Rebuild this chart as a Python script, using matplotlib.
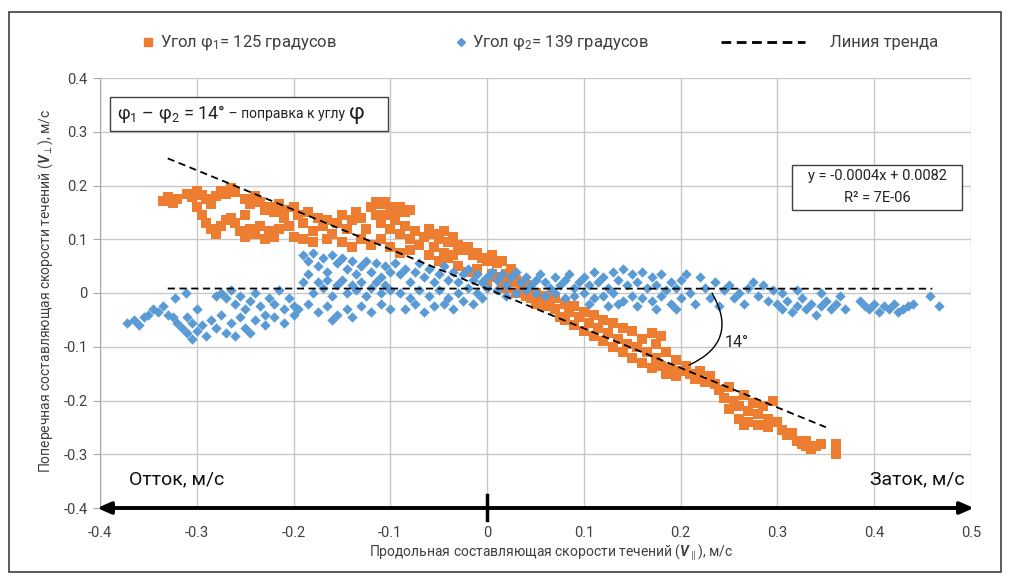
import matplotlib
matplotlib.use("Agg")
import matplotlib.pyplot as plt
from matplotlib.lines import Line2D
from matplotlib.patches import Rectangle

plt.rcParams['font.family'] = ['Roboto', 'DejaVu Sans']
plt.rcParams['mathtext.fontset'] = 'custom'
plt.rcParams['mathtext.rm'] = 'Roboto'
plt.rcParams['mathtext.it'] = 'Roboto:italic'
plt.rcParams['mathtext.bf'] = 'Roboto:bold'
plt.rcParams['mathtext.bfit'] = 'Roboto:bold:italic'

ORANGE = "#ED7D31"
BLUE = "#5B9BD5"

# angle phi1 = 125 deg (orange squares)
phi1_pts = [
    (-0.335, 0.172), (-0.33, 0.178), (-0.325, 0.168), (-0.32, 0.175), (-0.31, 0.185),
    (-0.305, 0.178), (-0.30, 0.19), (-0.295, 0.182), (-0.29, 0.175), (-0.285, 0.165),
    (-0.28, 0.18), (-0.275, 0.19), (-0.27, 0.185), (-0.265, 0.195), (-0.26, 0.188),
    (-0.30, 0.16), (-0.295, 0.145), (-0.29, 0.13), (-0.285, 0.12), (-0.28, 0.11),
    (-0.275, 0.125), (-0.27, 0.135), (-0.265, 0.14), (-0.26, 0.13), (-0.255, 0.115),
    (-0.25, 0.105), (-0.245, 0.12), (-0.24, 0.11), (-0.235, 0.125), (-0.23, 0.10),
    (-0.225, 0.115), (-0.22, 0.105), (-0.215, 0.12), (-0.25, 0.175), (-0.245, 0.165),
    (-0.24, 0.18), (-0.235, 0.17), (-0.23, 0.155), (-0.225, 0.16), (-0.22, 0.15),
    (-0.215, 0.165), (-0.21, 0.155), (-0.25, 0.145),
    (-0.21, 0.14), (-0.205, 0.125), (-0.20, 0.16), (-0.195, 0.145), (-0.19, 0.13),
    (-0.185, 0.15), (-0.18, 0.115), (-0.175, 0.14), (-0.17, 0.125), (-0.165, 0.135),
    (-0.16, 0.11), (-0.155, 0.13), (-0.15, 0.145), (-0.145, 0.12), (-0.14, 0.135),
    (-0.135, 0.15), (-0.13, 0.14), (-0.125, 0.12), (-0.20, 0.105), (-0.19, 0.10),
    (-0.18, 0.095), (-0.165, 0.10), (-0.15, 0.095), (-0.14, 0.085), (-0.13, 0.10),
    (-0.12, 0.09),
    (-0.12, 0.16), (-0.115, 0.17), (-0.11, 0.165), (-0.105, 0.17), (-0.10, 0.16),
    (-0.095, 0.155), (-0.09, 0.16), (-0.085, 0.15), (-0.08, 0.155), (-0.115, 0.145),
    (-0.11, 0.13), (-0.105, 0.145), (-0.10, 0.12), (-0.095, 0.135), (-0.09, 0.11),
    (-0.085, 0.125), (-0.08, 0.10), (-0.075, 0.115), (-0.11, 0.10), (-0.10, 0.085),
    (-0.09, 0.075), (-0.08, 0.08), (-0.07, 0.09), (-0.065, 0.105),
    (-0.06, 0.12), (-0.055, 0.11), (-0.05, 0.10), (-0.045, 0.115), (-0.04, 0.095),
    (-0.035, 0.105), (-0.03, 0.09), (-0.025, 0.08), (-0.02, 0.085), (-0.015, 0.07),
    (-0.01, 0.075), (-0.005, 0.065), (0.0, 0.06), (-0.06, 0.07), (-0.05, 0.06),
    (-0.04, 0.065), (-0.03, 0.05), (-0.02, 0.04), (-0.01, 0.045), (0.005, 0.07),
    (0.01, 0.055), (0.015, 0.06), (-0.055, 0.085), (-0.045, 0.075), (-0.035, 0.07),
    (0.01, 0.03), (0.015, 0.02), (0.02, 0.035), (0.02, 0.01), (0.025, 0.02),
    (0.03, 0.0), (0.03, 0.025), (0.035, 0.01), (0.04, -0.005), (0.04, 0.015),
    (0.045, -0.01), (0.05, 0.0), (0.05, -0.02), (0.055, -0.01), (0.06, -0.025),
    (0.06, -0.005), (0.065, -0.015), (0.0, 0.02), (0.005, 0.035), (0.025, 0.045),
    (0.07, -0.03), (0.07, -0.01), (0.075, -0.045), (0.08, -0.02), (0.08, -0.05),
    (0.085, -0.035), (0.09, -0.06), (0.09, -0.025), (0.095, -0.045), (0.10, -0.07),
    (0.10, -0.035), (0.105, -0.055), (0.11, -0.08), (0.11, -0.04), (0.115, -0.065),
    (0.12, -0.09), (0.12, -0.05), (0.125, -0.075), (0.13, -0.10), (0.13, -0.055),
    (0.135, -0.085), (0.14, -0.11), (0.14, -0.065), (0.145, -0.095), (0.15, -0.12),
    (0.15, -0.07), (0.155, -0.10), (0.16, -0.085), (0.165, -0.11), (0.17, -0.075),
    (0.175, -0.095), (0.18, -0.08), (0.16, -0.13), (0.17, -0.14), (0.175, -0.12),
    (0.18, -0.135), (0.185, -0.15), (0.19, -0.14), (0.195, -0.155), (0.20, -0.145),
    (0.185, -0.11), (0.195, -0.125), (0.205, -0.135), (0.21, -0.15), (0.215, -0.16),
    (0.22, -0.145), (0.225, -0.165), (0.23, -0.155),
    (0.235, -0.17), (0.24, -0.18), (0.245, -0.195), (0.25, -0.175), (0.255, -0.2),
    (0.26, -0.21), (0.265, -0.19), (0.27, -0.22), (0.275, -0.205), (0.28, -0.225),
    (0.285, -0.21), (0.29, -0.235), (0.295, -0.2), (0.25, -0.215), (0.26, -0.235),
    (0.265, -0.245), (0.27, -0.24), (0.28, -0.245), (0.29, -0.25),
    (0.30, -0.24), (0.305, -0.255), (0.31, -0.265), (0.315, -0.26), (0.32, -0.275),
    (0.325, -0.28), (0.33, -0.285), (0.335, -0.29), (0.34, -0.285), (0.345, -0.28),
    (0.33, -0.275), (0.36, -0.28), (0.36, -0.30),
]

# angle phi2 = 139 deg (blue diamonds)
phi2_pts = [
    (-0.372, -0.055), (-0.365, -0.05), (-0.36, -0.06), (-0.355, -0.045), (-0.35, -0.04),
    (-0.345, -0.03), (-0.34, -0.035), (-0.335, -0.025), (-0.33, -0.04), (-0.325, -0.045),
    (-0.32, -0.055), (-0.315, -0.065), (-0.31, -0.075), (-0.305, -0.085), (-0.30, -0.07),
    (-0.31, -0.045), (-0.305, -0.055), (-0.322, -0.01), (-0.311, 0.0),
    (-0.30, -0.03), (-0.295, -0.06), (-0.29, -0.08), (-0.285, -0.05), (-0.28, -0.065),
    (-0.275, -0.04), (-0.27, -0.075), (-0.265, -0.055), (-0.26, -0.08), (-0.255, -0.045),
    (-0.25, -0.065), (-0.245, -0.075), (-0.28, -0.005), (-0.275, 0.0), (-0.27, -0.01),
    (-0.265, 0.005), (-0.26, -0.02), (-0.255, -0.005), (-0.25, -0.03), (-0.245, -0.015),
    (-0.24, 0.0), (-0.235, -0.025), (-0.23, -0.04), (-0.225, -0.01), (-0.22, -0.02),
    (-0.215, 0.005), (-0.21, -0.03), (-0.205, -0.01), (-0.20, -0.025), (-0.24, -0.05),
    (-0.23, -0.06), (-0.22, -0.045), (-0.21, -0.055), (-0.20, -0.04),
    (-0.19, 0.07), (-0.185, 0.06), (-0.18, 0.075), (-0.175, 0.05), (-0.17, 0.065),
    (-0.165, 0.04), (-0.16, 0.07), (-0.155, 0.055), (-0.15, 0.065), (-0.145, 0.045),
    (-0.14, 0.06), (-0.135, 0.035), (-0.13, 0.05), (-0.125, 0.06), (-0.12, 0.04),
    (-0.115, 0.055), (-0.11, 0.03), (-0.105, 0.05), (-0.10, 0.04), (-0.19, 0.02),
    (-0.185, 0.035), (-0.18, 0.0), (-0.175, 0.02), (-0.17, 0.01), (-0.165, 0.025),
    (-0.16, -0.005), (-0.155, 0.015), (-0.15, 0.025), (-0.145, 0.0), (-0.14, 0.015),
    (-0.135, 0.005), (-0.13, 0.02), (-0.125, -0.005), (-0.12, 0.01), (-0.115, 0.02),
    (-0.11, 0.0), (-0.105, 0.015), (-0.10, 0.005), (-0.195, -0.03), (-0.185, -0.02),
    (-0.175, -0.035), (-0.165, -0.025), (-0.16, -0.05), (-0.155, -0.04), (-0.145, -0.03),
    (-0.14, -0.045), (-0.13, -0.025), (-0.12, -0.035), (-0.11, -0.02), (-0.10, -0.03),
    (-0.095, 0.055), (-0.09, 0.035), (-0.085, 0.045), (-0.08, 0.02), (-0.075, 0.04),
    (-0.07, 0.055), (-0.065, 0.03), (-0.06, 0.045), (-0.055, 0.02), (-0.05, 0.035),
    (-0.045, 0.05), (-0.04, 0.025), (-0.035, 0.04), (-0.03, 0.02), (-0.025, 0.035),
    (-0.02, 0.045), (-0.015, 0.025), (-0.01, 0.035), (-0.005, 0.02), (0.0, 0.03),
    (-0.09, 0.0), (-0.08, -0.01), (-0.07, 0.005), (-0.06, -0.005), (-0.05, 0.005),
    (-0.04, -0.01), (-0.03, 0.0), (-0.02, 0.01), (-0.01, 0.0), (0.0, 0.01),
    (-0.085, -0.03), (-0.075, -0.02), (-0.065, -0.035), (-0.055, -0.025), (-0.045, -0.02),
    (-0.035, -0.03), (-0.025, -0.015), (-0.015, -0.02), (-0.005, -0.01),
    (0.005, 0.04), (0.01, 0.025), (0.015, 0.035), (0.02, 0.015), (0.025, 0.03),
    (0.03, 0.04), (0.035, 0.02), (0.04, 0.03), (0.045, 0.015), (0.05, 0.025),
    (0.055, 0.035), (0.06, 0.02), (0.065, 0.01), (0.07, 0.03), (0.075, 0.015),
    (0.08, 0.025), (0.085, 0.035), (0.09, 0.01), (0.095, 0.02), (0.10, 0.03),
    (0.105, 0.015), (0.11, 0.04), (0.115, 0.02), (0.12, 0.03), (0.125, 0.01),
    (0.13, 0.04), (0.135, 0.025), (0.14, 0.045), (0.145, 0.015), (0.15, 0.035),
    (0.155, 0.02), (0.16, 0.04), (0.165, 0.01), (0.17, 0.03), (0.175, 0.015),
    (0.18, 0.035), (0.185, 0.005), (0.19, 0.02), (0.195, 0.01), (0.20, 0.025),
    (0.01, 0.005), (0.02, -0.005), (0.03, 0.0), (0.04, 0.005), (0.05, 0.0),
    (0.06, -0.005), (0.07, 0.0), (0.08, -0.01), (0.09, -0.005), (0.10, 0.0),
    (0.11, -0.01), (0.12, -0.005), (0.13, 0.0), (0.14, -0.015), (0.15, -0.005),
    (0.16, -0.01), (0.17, -0.015), (0.18, -0.005), (0.19, -0.02), (0.20, -0.01),
    (0.105, -0.02), (0.125, -0.025), (0.155, -0.025), (0.175, -0.03), (0.195, -0.03),
    (0.135, -0.02),
    (0.205, 0.035), (0.21, 0.0), (0.215, -0.02), (0.22, 0.03), (0.225, 0.01),
    (0.23, -0.01), (0.235, 0.02), (0.24, -0.025), (0.245, 0.005), (0.25, 0.015),
    (0.255, -0.01), (0.26, 0.0), (0.265, -0.02), (0.27, 0.01), (0.275, 0.02),
    (0.28, -0.005), (0.285, 0.015), (0.29, -0.015), (0.295, 0.005), (0.30, -0.02),
    (0.305, -0.03), (0.31, -0.015), (0.315, -0.035), (0.32, -0.025), (0.325, -0.01),
    (0.33, -0.03), (0.335, -0.02), (0.34, -0.04), (0.345, -0.025), (0.35, -0.015),
    (0.355, -0.03), (0.36, -0.02), (0.365, -0.005), (0.37, -0.03), (0.385, -0.015),
    (0.39, -0.025), (0.395, -0.03), (0.40, -0.02), (0.405, -0.035), (0.41, -0.025),
    (0.415, -0.03), (0.42, -0.02), (0.425, -0.035), (0.43, -0.03), (0.435, -0.025),
    (0.44, -0.02), (0.458, -0.005), (0.467, -0.025), (0.305, 0.0), (0.32, 0.005),
    (0.345, 0.0),
]

# trend lines: (x_start, x_end, slope, intercept)
trend_phi1 = (-0.33, 0.35, -0.7356, 0.0077)
trend_phi2 = (-0.33, 0.46, -0.0004, 0.0082)

x_ticks = [-0.4, -0.3, -0.2, -0.1, 0, 0.1, 0.2, 0.3, 0.4, 0.5]
y_ticks = [-0.4, -0.3, -0.2, -0.1, 0, 0.1, 0.2, 0.3, 0.4]


def fmt(v):
    return "0" if v == 0 else f"{v:g}"


def px(x, y):
    # figure pixel -> figure fraction
    return x / 1010, 1 - y / 576


fig = plt.figure(figsize=(10.1, 5.76), dpi=100)
ax = fig.add_axes([100 / 1010, 1 - 508 / 576, 871 / 1010, 430 / 576])

ax.set_xlim(-0.4, 0.5)
ax.set_ylim(-0.4, 0.4)
ax.set_xticks(x_ticks)
ax.set_yticks(y_ticks)
ax.set_xticklabels([fmt(v) for v in x_ticks])
ax.set_yticklabels([fmt(v) for v in y_ticks])
ax.grid(True, color="#c8c8c8", lw=1)
ax.set_axisbelow(True)
for s in ["top", "right", "bottom"]:
    ax.spines[s].set_visible(False)
ax.spines["left"].set_color("#a6a6a6")
ax.tick_params(axis="y", colors="#a6a6a6", labelcolor="#404040", labelsize=10.5,
               length=5, pad=4)
ax.tick_params(axis="x", length=0, labelcolor="#404040", labelsize=10.5, pad=13)

ax.scatter([p[0] for p in phi1_pts], [p[1] for p in phi1_pts], marker="s",
           s=52, color=ORANGE, linewidths=0, zorder=3)
ax.scatter([p[0] for p in phi2_pts], [p[1] for p in phi2_pts], marker="D",
           s=28, color=BLUE, linewidths=0, zorder=4)

for x0, x1, k, b in (trend_phi1, trend_phi2):
    ax.plot([x0, x1], [k * x0 + b, k * x1 + b], color="black", lw=1.3,
            ls=(0, (4, 2.5)), zorder=5)

# arc marking the angle
ax.annotate("", xy=(0.2087, -0.134), xytext=(0.2324, 0.0),
            arrowprops=dict(arrowstyle="-", color="black", lw=1,
                            connectionstyle="arc3,rad=-0.55",
                            shrinkA=0, shrinkB=0), zorder=6)
ax.text(0.245, -0.093, "14°", fontsize=11.5, color="#222222", va="center")

# bottom double arrow
ax.annotate("", xy=(0.503, -0.4), xytext=(-0.403, -0.4),
            arrowprops=dict(arrowstyle="<|-|>,head_length=0.8,head_width=0.35",
                            color="black", lw=2.8, shrinkA=0, shrinkB=0),
            annotation_clip=False, zorder=7)
ax.plot([0, 0], [-0.376, -0.422], color="black", lw=2.5, clip_on=False, zorder=7)
ax.text(-0.37, -0.346, "Отток, м/с", fontsize=14, va="center", ha="left",
        color="#111111")
ax.text(0.493, -0.346, "Заток, м/с", fontsize=14, va="center", ha="right",
        color="#111111")

# axis labels
fig.text(*px(46, 291), r"Поперечная составляющая скорости течений ($\mathbfit{V}_{\perp}$), м/с",
         rotation=90, ha="center", va="center", fontsize=10, color="#404040")
fig.text(*px(551, 552), r"Продольная составляющая скорости течений ($\mathbfit{V}_{\parallel}$), м/с",
         ha="center", va="center", fontsize=10, color="#404040")

# legend drawn by hand
ly = 1 - 42 / 576
fig.add_artist(Line2D([148 / 1010], [ly], marker="s", ms=6, color=ORANGE, lw=0))
fig.text(160 / 1010, ly, r"Угол φ$_1$= 125 градусов", fontsize=12, va="center",
         color="#404040")
fig.add_artist(Line2D([461 / 1010], [ly], marker="D", ms=4.5, color=BLUE, lw=0))
fig.text(472 / 1010, ly, r"Угол φ$_2$= 139 градусов", fontsize=12, va="center",
         color="#404040")
fig.add_artist(Line2D([721 / 1010, 805 / 1010], [ly, ly], color="black", lw=2,
                      ls=(0, (3.5, 2))))
fig.text(830 / 1010, ly, "Линия тренда", fontsize=12, va="center", color="#404040")

# annotation box top-left
fig.add_artist(Rectangle(px(110, 131), 278 / 1010, 34 / 576, transform=fig.transFigure,
                         facecolor="white", edgecolor="#404040", lw=1, zorder=8))
renderer = fig.canvas.get_renderer()
cx = 117 / 1010
cy = 1 - 114 / 576
for piece, size in [(r"φ$_1$ – φ$_2$ = 14°", 13), (" – поправка к углу ", 10), ("φ", 16)]:
    t = fig.text(cx, cy, piece, fontsize=size, va="center", ha="left",
                 color="#222222", zorder=9)
    bb = t.get_window_extent(renderer)
    cx += bb.width / fig.bbox.width

# regression equation box
fig.add_artist(Rectangle(px(792, 210), 170 / 1010, 45 / 576, transform=fig.transFigure,
                         facecolor="white", edgecolor="#404040", lw=1, zorder=8))
fig.text(*px(877, 176), "y = -0.0004x + 0.0082", fontsize=10.5, ha="center",
         va="center", color="#222222", zorder=9)
fig.text(*px(877, 198), "R² = 7E-06", fontsize=10.5, ha="center", va="center",
         color="#222222", zorder=9)

# outer border of the chart
fig.add_artist(Rectangle(px(9, 572), 992 / 1010, 560 / 576, transform=fig.transFigure,
                         fill=False, edgecolor="#404040", lw=1.2))

fig.savefig("out.png", dpi=100)
